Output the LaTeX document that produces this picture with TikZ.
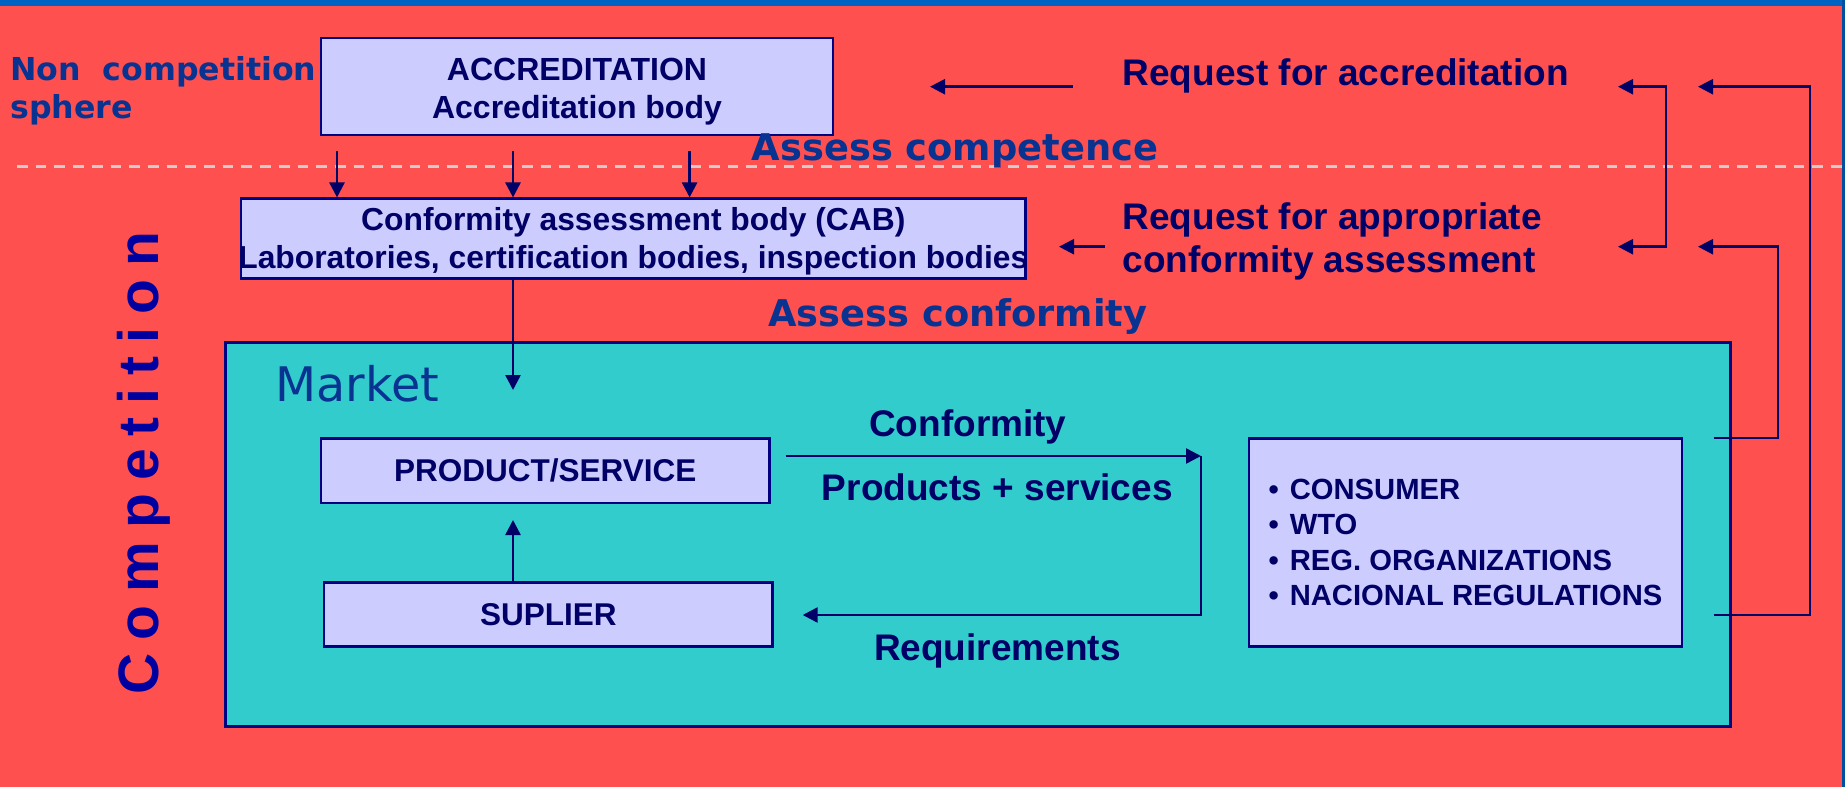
\documentclass[tikz,border=0pt]{standalone}
\usepackage{fontspec}
\setmainfont{Liberation Sans}
\newfontfamily\widefam{DejaVu Sans}
\usetikzlibrary{arrows.meta}

\definecolor{bgred}{HTML}{FF5050}
\definecolor{bandblue}{HTML}{0062C2}
\definecolor{edgeblue}{HTML}{0050A0}
\definecolor{inknavy}{HTML}{000066}
\definecolor{framenavy}{HTML}{000080}
\definecolor{lilac}{HTML}{CCCCFF}
\definecolor{mktcyan}{HTML}{33CCCC}
\definecolor{midblue}{HTML}{083391}
\definecolor{deepblue}{HTML}{0000A0}
\definecolor{dashgray}{HTML}{D2CCCC}

\tikzset{
  boxnode/.style={draw=framenavy, fill=lilac, line width=2.5pt, inner sep=0pt,
    text=inknavy, align=center, font=\bfseries\fontsize{32}{38}\selectfont},
  tipshape/.style={-{Triangle[length=15pt,width=15pt]}},
  conn/.style={draw=inknavy, line width=2.5pt, tipshape},
  lbl/.style={inner sep=0pt, text=inknavy, font=\bfseries\fontsize{37}{43}\selectfont},
  widelbl/.style={inner sep=0pt, text=midblue, font=\widefam\bfseries\fontsize{36.8}{43}\selectfont},
}

\begin{document}
\begin{tikzpicture}[x=1pt,y=-1pt]
  \useasboundingbox (0,0) rectangle (1845,787);
  % slide background
  \fill[bgred] (0,0) rectangle (1845,787);
  \fill[bandblue] (0,0) rectangle (1845,6);
  \fill[edgeblue] (1842,0) rectangle (1845,787);

  % border between the two spheres
  \draw[dashgray, line width=3.3pt, dash pattern=on 10.7pt off 8pt] (17,166.7) -- (1845,166.7);

  % sphere captions
  \node[inner sep=0pt, text=midblue, font=\widefam\bfseries\fontsize{31.6}{38}\selectfont,
        align=left, anchor=north west] (noncomp) at (10,56) {Non\ \ competition\\sphere};
  \node[inner sep=0pt, text=deepblue, font=\bfseries\fontsize{57}{60}\selectfont,
        rotate=90, anchor=base] (comp) at (158.5,463)
        {C\kern13pt o\kern13pt m\kern13pt p\kern13pt e\kern13pt t\kern13pt i\kern13pt t\kern13pt i\kern13pt o\kern13pt n};

  % accreditation and conformity assessment bodies
  \node[boxnode, minimum width=512pt, minimum height=97pt] (acc) at (577,86.5)
        {\rule{0pt}{31.7pt}ACCREDITATION\\Accreditation body};
  \node[boxnode, minimum width=784.6pt, minimum height=80pt,
        font=\bfseries\fontsize{31.8}{38}\selectfont] (cab) at (633.3,238.7)
        {\rule{0pt}{27.3pt}\makebox[0pt]{Conformity assessment body (CAB)}\\\makebox[0pt]{Laboratories, certification bodies, inspection bodies}};

  \node[widelbl, anchor=base] (lcompet) at (955,160) {Assess competence};
  \node[widelbl, anchor=base] (lconfor) at (958,326.7) {Assess conformity};

  \node[lbl, anchor=base west] (lreqacc) at (1122.3,85) {Request for accreditation};
  \node[lbl, anchor=north west, align=left] (lreqcab) at (1122.3,202.1)
        {Request for appropriate\\conformity assessment};

  % market
  \node[draw=framenavy, fill=mktcyan, line width=3pt, inner sep=0pt,
        minimum width=1504.5pt, minimum height=384pt] (market) at (977.75,534.7) {};
  \node[inner sep=0pt, anchor=base west, text=midblue,
        font=\widefam\fontsize{47.6}{55}\selectfont] (mlabel) at (275.5,401) {Market};

  \node[boxnode, minimum width=448.5pt, minimum height=64.3pt,
        font=\bfseries\fontsize{31.5}{38}\selectfont] (prod) at (545.25,470.85) {PRODUCT/SERVICE};
  \node[boxnode, minimum width=448.7pt, minimum height=64pt,
        font=\bfseries\fontsize{31.5}{38}\selectfont] (sup) at (548.35,614.7) {SUPLIER};
  \node[boxnode, align=left, minimum width=433pt, minimum height=208.4pt,
        font=\bfseries\fontsize{29.2}{35.3}\selectfont] (cons) at (1465.5,542.5)
        {\textbullet\hspace{11pt}CONSUMER\\
         \textbullet\hspace{11pt}WTO\\
         \textbullet\hspace{11pt}REG. ORGANIZATIONS\\
         \textbullet\hspace{11pt}NACIONAL REGULATIONS};

  \node[lbl, anchor=base] (lconf) at (967.8,436) {Conformity};
  \node[lbl, anchor=base] (lprods) at (997.3,500) {Products + services};
  \node[lbl, anchor=base] (lreqs) at (997.4,660) {Requirements};

  % free ends of the connectors
  \coordinate (acA) at (337,151);
  \coordinate (acB) at (513,151);
  \coordinate (acC) at (689.6,151);
  \coordinate (mkt) at (513,390);
  \coordinate (prodtip) at (513,520);
  \coordinate (confA) at (785.5,456);
  \coordinate (confB) at (1201,456);
  \coordinate (reqtip) at (802.7,615);
  \coordinate (raA) at (1073,86.7);
  \coordinate (raB) at (930,86.7);
  \coordinate (rcA) at (1105,246.7);
  \coordinate (rcB) at (1059,246.7);
  \coordinate (brA) at (1618,86.7);
  \coordinate (brB) at (1618,246.7);
  \coordinate (outA) at (1713.5,615);
  \coordinate (outB) at (1698,86.7);
  \coordinate (inA) at (1713.5,438);
  \coordinate (inB) at (1698,246.7);

  % connectors
  \draw[conn] (acA) -- (acA |- cab.north);
  \draw[conn] (acB) -- (acB |- cab.north);
  \draw[conn] (acC) -- (acC |- cab.north);
  \draw[conn] (cab.south -| mkt) -- (mkt);
  \draw[conn] (sup.north -| prodtip) -- (prodtip);
  \draw[conn] (confA) -- (confB);
  \draw[conn] (confB) -- (confB |- reqtip) -- (reqtip);
  \draw[conn] (raA) -- (raB);
  \draw[conn] (rcA) -- (rcB);
  \draw[conn, {Triangle[length=15pt,width=15pt]}-{Triangle[length=15pt,width=15pt]}]
        (brA) -- ++(48,0) |- (brB);
  \draw[conn] (outA) -- ++(96.5,0) |- (outB);
  \draw[conn] (inA) -- ++(64.5,0) |- (inB);
\end{tikzpicture}
\end{document}
